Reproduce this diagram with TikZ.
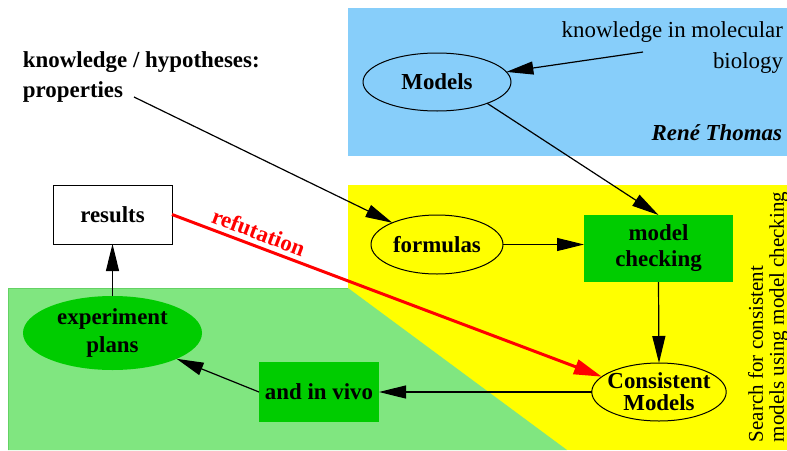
\documentclass[tikz,border=0pt]{standalone}
\usepackage{fontspec}
\setmainfont{Liberation Serif}
\usetikzlibrary{shapes.geometric,arrows.meta}
\definecolor{bgblue}{RGB}{135,206,250}
\definecolor{bgyellow}{RGB}{255,255,0}
\definecolor{bggreen}{RGB}{128,230,128}
\definecolor{bgedge}{RGB}{100,210,100}
\definecolor{nodegreen}{RGB}{0,204,0}
\definecolor{refred}{RGB}{255,0,0}
\newcommand{\fsz}[1]{\fontsize{22.9}{#1}\selectfont}
\begin{document}
\begin{tikzpicture}[x=1pt,y=-1pt,
  every node/.style={inner sep=0pt, outer sep=0pt},
  ell/.style={ellipse, draw=black, line width=1pt, align=center},
  gbox/.style={rectangle, fill=nodegreen, align=center},
  arr/.style={draw=black, line width=1.2pt, -{Triangle[length=27pt,width=13pt]}},
  redarr/.style={draw=refred, line width=3pt, -{Triangle[length=28pt,width=15pt]}},
]
\useasboundingbox (0,0) rectangle (787,450);
% background regions
\fill[bgblue] (348,8) rectangle (787,156);
\fill[bgyellow] (348,185) rectangle (787,450);
\fill[bggreen] (8,450) -- (8,288) -- (348,288) -- (567,450) -- cycle;
\draw[bgedge, line width=1pt] (8,450) -- (8,288) -- (348,288);

% nodes
\node[ell, fill=bgblue, minimum width=148pt, minimum height=58pt, font=\fsz{26}\bfseries] (models) at (437,82) {Models};
\node[ell, fill=bgyellow, minimum width=132pt, minimum height=59pt, font=\fsz{26}\bfseries] (formulas) at (437,244.5) {formulas};
\node[gbox, minimum width=149pt, minimum height=67pt, font=\fsz{26}\bfseries] (mc) at (658.5,248.5) {model\\checking};
\node[ell, fill=bgyellow, inner xsep=-4pt, inner ysep=-2pt, minimum width=134pt, minimum height=58pt, font=\fsz{22}\bfseries] (cm) at (659,392) {Consistent\\Models};
\node[gbox, minimum width=120pt, minimum height=60pt, font=\fsz{26}\bfseries] (aiv) at (319,392) {and in vivo};
\node[ellipse, fill=nodegreen, minimum width=179pt, minimum height=74pt, align=center, font=\fsz{28}\bfseries] (ep) at (112.5,333) {experiment\\plans};
\node[rectangle, draw=black, fill=white, line width=1pt, minimum width=119pt, minimum height=59pt, font=\fsz{26}\bfseries] (results) at (112.5,214.5) {results};

% texts
\node[font=\fsz{31}, align=right, anchor=north east] (kmb) at (783,21.5) {knowledge in molecular\\biology};
\coordinate (kmbend) at (643,52);
\node[font=\fsz{30}\bfseries, align=left, anchor=north west] (khp) at (23,51.5) {knowledge / hypotheses:\\properties};
\coordinate (khpend) at (134,97);
\node[font=\fsz{26}\bfseries\itshape, anchor=base east] (rt) at (782,140) {René Thomas};
\node[font=\fontsize{21}{21}\selectfont, align=left, rotate=90, anchor=north west] (search) at (748,442) {Search for consistent\\models using model checking};

% connectors
\draw[arr] (kmbend) -- (models);
\draw[arr] (khpend) -- (formulas);
\draw[arr] (models.-23) -- (mc.north);
\draw[arr] (formulas.east) -- (formulas.east -| mc.west);
\draw[arr] (mc.south) -- (cm.north);
\draw[arr] (cm.west) -- (aiv.east);
\draw[arr] (aiv.west) -- (ep);
\draw[arr] (ep.north) -- (results.south);
\draw[redarr] (results.east) -- node[sloped, above=6pt, pos=0.19, font=\fsz{26}\bfseries, text=refred] (reflabel) {refutation} (cm.165);
\end{tikzpicture}
\end{document}
